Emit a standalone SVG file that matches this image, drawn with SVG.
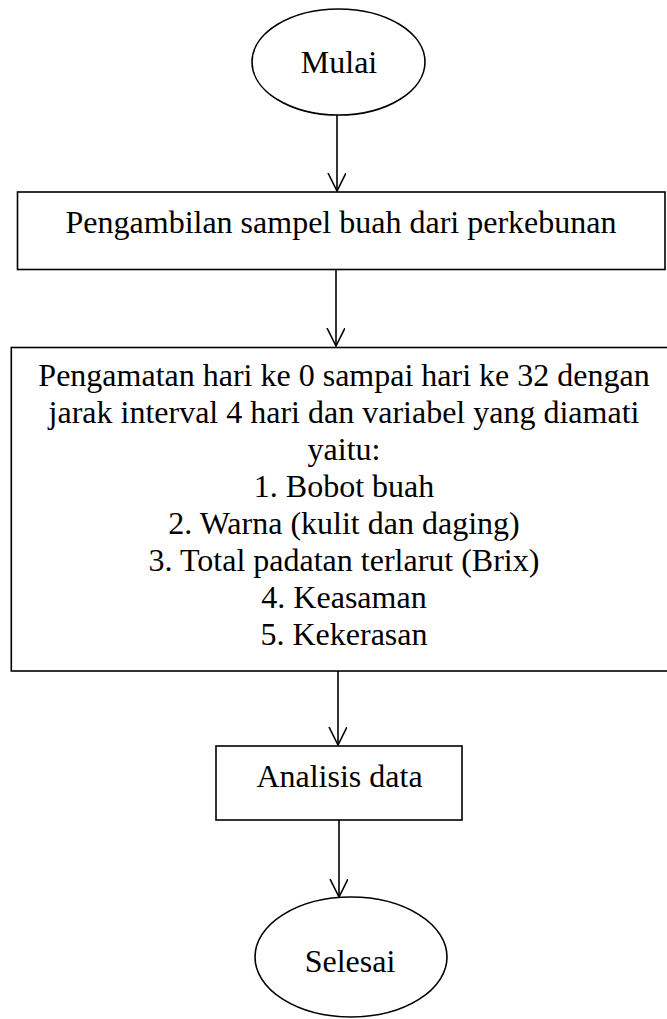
<svg xmlns="http://www.w3.org/2000/svg" width="667" height="1019" viewBox="0 0 667 1019">
<style>
.s{fill:#fff;stroke:#000;stroke-width:1.6}
.t{font-family:"Liberation Serif","Times New Roman",serif;font-size:32px;fill:#000;text-anchor:middle}
.c{stroke:#000;stroke-width:1.6;fill:none}
</style>
<defs>
<marker id="v" markerWidth="20" markerHeight="20" refX="18" refY="9" orient="auto" markerUnits="userSpaceOnUse">
<path d="M0,0 L18,9 L0,18" fill="none" stroke="#000" stroke-width="1.6"/>
</marker>
</defs>
<rect width="667" height="1019" fill="#fff"/>
<g id="connectors">
<line class="c" x1="337" y1="115" x2="337" y2="191" marker-end="url(#v)"/>
<line class="c" x1="336" y1="270" x2="336" y2="346" marker-end="url(#v)"/>
<line class="c" x1="338" y1="671" x2="338" y2="745" marker-end="url(#v)"/>
<line class="c" x1="339" y1="820" x2="339" y2="897" marker-end="url(#v)"/>
</g>
<g id="mulai">
<ellipse class="s" cx="338.5" cy="62" rx="86.5" ry="53"/>
<text class="t" x="339" y="73">Mulai</text>
</g>
<g id="pengambilan">
<rect class="s" x="17.5" y="192" width="647.5" height="77.5"/>
<text class="t" x="341" y="233">Pengambilan sampel buah dari perkebunan</text>
</g>
<g id="pengamatan">
<rect class="s" x="11.3" y="347.5" width="666" height="323.5"/>
<text class="t" x="344" y="386">Pengamatan hari ke 0 sampai hari ke 32 dengan</text>
<text class="t" x="344" y="423">jarak interval 4 hari dan variabel yang diamati</text>
<text class="t" x="344" y="460">yaitu:</text>
<text class="t" x="344" y="497">1. Bobot buah</text>
<text class="t" x="344" y="534">2. Warna (kulit dan daging)</text>
<text class="t" x="344" y="571">3. Total padatan terlarut (Brix)</text>
<text class="t" x="344" y="608">4. Keasaman</text>
<text class="t" x="344" y="645">5. Kekerasan</text>
</g>
<g id="analisis">
<rect class="s" x="216" y="746" width="246" height="74"/>
<text class="t" x="339.5" y="787">Analisis data</text>
</g>
<g id="selesai">
<ellipse class="s" cx="351" cy="957" rx="96" ry="60"/>
<text class="t" x="350" y="972">Selesai</text>
</g>
</svg>
